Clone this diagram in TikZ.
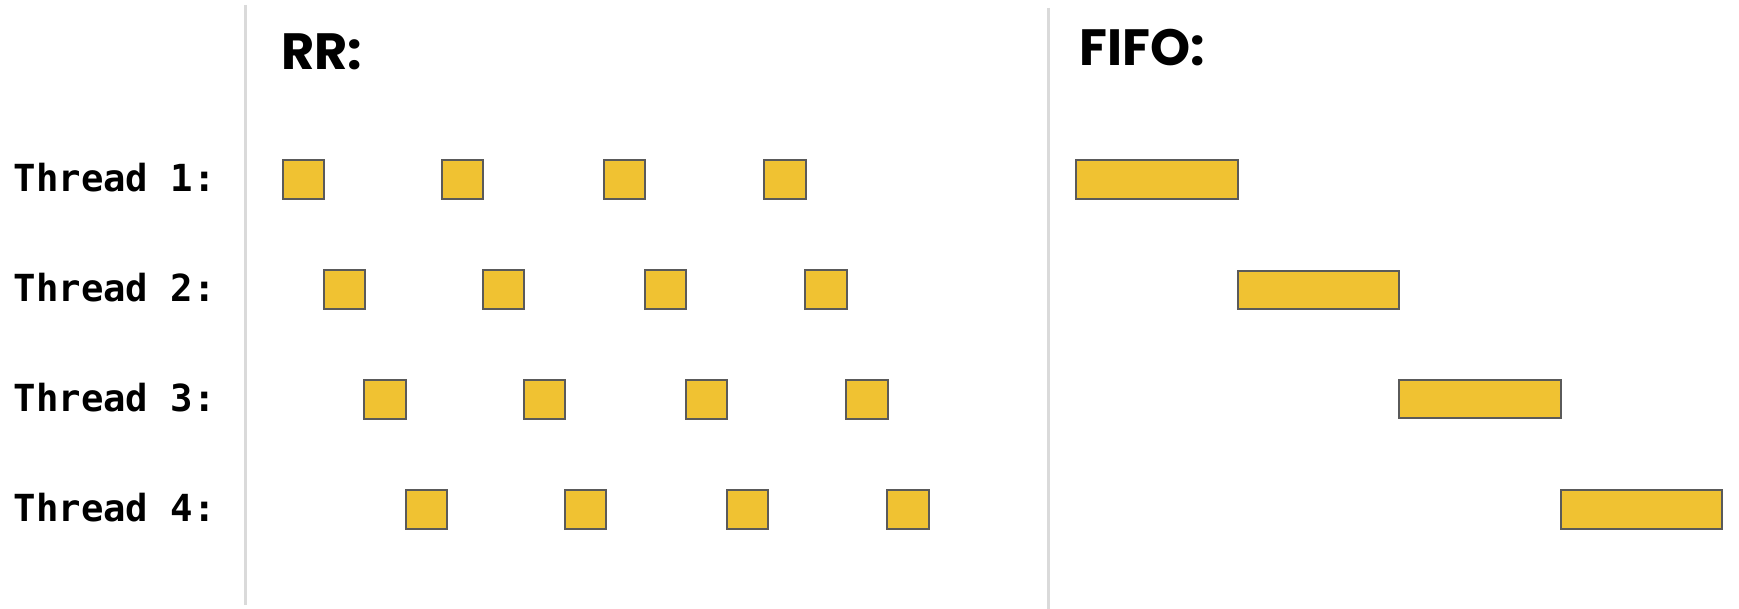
\documentclass[tikz,border=0pt]{standalone}
\usepackage{fontspec}
\newfontfamily\monof{DejaVu Sans Mono}
\newfontfamily\titlef{Poppins}
\definecolor{boxfill}{HTML}{F0C232}
\definecolor{boxline}{HTML}{5A5A5A}
\definecolor{divider}{HTML}{DADADA}
\begin{document}
\begin{tikzpicture}[x=1pt,y=-1pt,
  slot/.style={draw=boxline, fill=boxfill, line width=2pt, rectangle, inner sep=0pt,
    minimum height=38.4pt, anchor=north west},
  rrbox/.style={slot, minimum width=41.4pt},
  fifobox/.style={slot, minimum width=161.7pt},
  threadlabel/.style={anchor=base west, inner sep=0pt, font=\monof\bfseries\fontsize{37.3}{40}\selectfont},
  title/.style={anchor=base west, inner sep=0pt, font=\titlef\bfseries\fontsize{51}{54}\selectfont},
  divline/.style={draw=divider, line width=3pt}]
\useasboundingbox (0,0) rectangle (1739,609);
% dividers
\coordinate (d1t) at (245,5);
\coordinate (d1b) at (245,605);
\coordinate (d2t) at (1048,8);
\coordinate (d2b) at (1048,609);
\draw[divline] (d1t) -- (d1b);
\draw[divline] (d2t) -- (d2b);
% titles
\node[title] (rrtitle) at (281,69.3) {RR:};
\node[title] (fifotitle) at (1079,65.7) {FIFO:};
% thread labels
\node[threadlabel] (t1) at (13.5,191.5) {Thread 1:};
\node[threadlabel] (t2) at (13.5,301.5) {Thread 2:};
\node[threadlabel] (t3) at (13.5,411.5) {Thread 3:};
\node[threadlabel] (t4) at (13.5,521.5) {Thread 4:};
% RR boxes
\node[rrbox] (r11) at (281.7,159.3) {};
\node[rrbox] (r12) at (440.7,159.3) {};
\node[rrbox] (r13) at (602.7,159.3) {};
\node[rrbox] (r14) at (763.3,159.3) {};
\node[rrbox] (r21) at (322.7,269.3) {};
\node[rrbox] (r22) at (481.7,269.3) {};
\node[rrbox] (r23) at (643.7,269.3) {};
\node[rrbox] (r24) at (804.3,269.3) {};
\node[rrbox] (r31) at (363.3,379.3) {};
\node[rrbox] (r32) at (522.7,379.3) {};
\node[rrbox] (r33) at (684.7,379.3) {};
\node[rrbox] (r34) at (845.3,379.3) {};
\node[rrbox] (r41) at (404.7,489.3) {};
\node[rrbox] (r42) at (564.0,489.3) {};
\node[rrbox] (r43) at (725.7,489.3) {};
\node[rrbox] (r44) at (886.3,489.3) {};
% FIFO boxes
\node[fifobox] (f1) at (1075,159.3) {};
\node[fifobox] (f2) at (1236.5,269.6) {};
\node[fifobox] (f3) at (1398,378.6) {};
\node[fifobox] (f4) at (1559.5,489.3) {};
\end{tikzpicture}
\end{document}
